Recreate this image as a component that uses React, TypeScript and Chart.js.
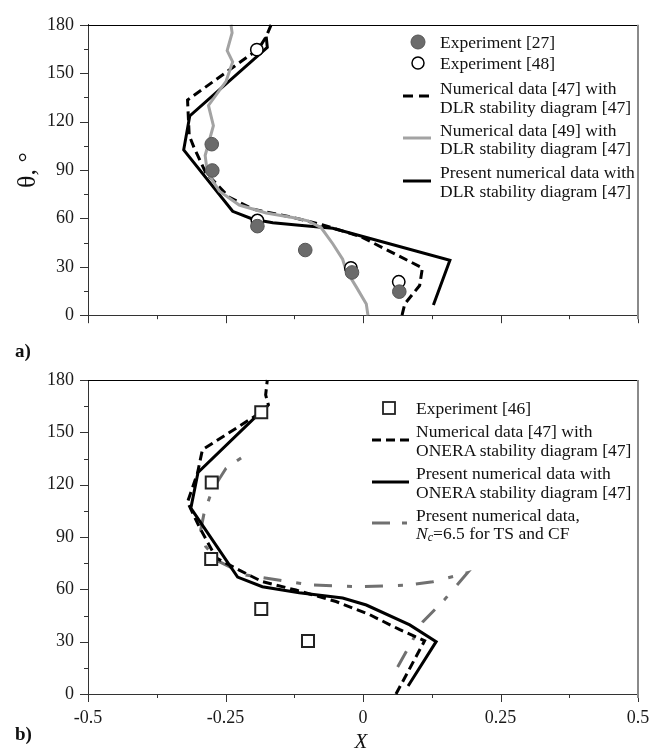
import React, { useEffect, useRef } from "react";
import { Chart, registerables } from "chart.js";
Chart.register(...registerables);

// ---------- Panel a data (X vs theta) ----------
const aExp27X = [-0.275, -0.274, -0.192, -0.105, -0.02, 0.066];
const aExp27Theta = [106, 89.7, 55.2, 40.4, 26.5, 14.6];
const aExp48X = [-0.193, -0.192, -0.022, 0.065];
const aExp48Theta = [164.6, 58.7, 29.3, 20.7];
const aNum47X = [0.071, 0.076, 0.103, 0.108, -0.003, -0.073, -0.128, -0.2, -0.243, -0.286, -0.307, -0.316, -0.319, -0.19, -0.176, -0.167];
const aNum47Theta = [0, 7, 18.4, 29.3, 48.5, 56, 60.6, 65.7, 73, 88.4, 103.7, 111.4, 133.4, 165, 172.7, 180];
const aNum49X = [0.009, 0.006, -0.012, -0.031, -0.037, -0.055, -0.076, -0.1, -0.128, -0.176, -0.225, -0.261, -0.283, -0.287, -0.272, -0.281, -0.249, -0.237, -0.247, -0.238, -0.24];
const aNum49Theta = [0, 7, 17.4, 28, 34.7, 44.3, 54.2, 58.5, 60.6, 63.4, 68.3, 76.9, 88.4, 99, 117.5, 130, 145, 157, 164, 175, 180];
const aPresentX = [0.128, 0.158, -0.055, -0.116, -0.164, -0.2, -0.237, -0.326, -0.315, -0.174, -0.176];
const aPresentTheta = [6.3, 34, 53.9, 55.8, 57.3, 59.5, 64.4, 102.5, 123.5, 166, 172.7];

// ---------- Panel b data ----------
const bExp46X = [-0.185, -0.275, -0.276, -0.185, -0.1];
const bExp46Theta = [161.5, 121.2, 77.4, 48.7, 30.4];
const bNum47X = [0.06, 0.112, 0.066, 0.012, -0.049, -0.122, -0.183, -0.225, -0.267, -0.298, -0.319, -0.301, -0.292, -0.183, -0.172, -0.177, -0.174];
const bNum47Theta = [0, 30.5, 37, 45.5, 53, 59.6, 64.4, 71, 78, 96, 110, 126.5, 140, 162, 165.7, 171.4, 180];
const bPresentX = [0.082, 0.133, 0.085, 0.006, -0.037, -0.116, -0.183, -0.228, -0.313, -0.3, -0.176];
const bPresentTheta = [4.6, 30, 39.6, 51, 55, 58, 61.5, 67, 106.5, 127, 164.7];
const bNcX = [0.063, 0.109, 0.148, 0.19, 0.176, 0.127, 0.085, -0.006, -0.097, -0.116, -0.213, -0.262, -0.286, -0.295, -0.289, -0.274, -0.249, -0.2];
const bNcTheta = [15.5, 41.5, 54, 69.5, 68.3, 64.4, 62.5, 61.5, 62.5, 63.5, 68.2, 76, 84.5, 94, 103.6, 117, 129.4, 140];

// ---------- axes ----------
const xMin = -0.5, xMax = 0.5, xStep = 0.125;
const yMin = 0, yMax = 180, yStep = 15;

const FONT = "'Liberation Serif', 'Times New Roman', serif";

const pts = (xs: number[], ys: number[]) => xs.map((x, i) => ({ x, y: ys[i] }));
const isMajorX = (v: number) => Math.abs(v * 4 - Math.round(v * 4)) < 1e-9;

const frameTicks = {
  id: "frameTicks",
  afterDraw(chart: any) {
    const { ctx, chartArea } = chart;
    const { left, right, top, bottom } = chartArea;
    const xs = chart.scales.x, ys = chart.scales.y;
    ctx.save();
    ctx.lineWidth = 1;
    ctx.strokeStyle = "#333";
    ys.ticks.forEach((t: any) => {
      const y = Math.round(ys.getPixelForValue(t.value)) + 0.5;
      const len = t.value % 30 === 0 ? 8 : 4;
      ctx.beginPath(); ctx.moveTo(left - len, y); ctx.lineTo(left, y); ctx.stroke();
    });
    xs.ticks.forEach((t: any) => {
      const x = Math.round(xs.getPixelForValue(t.value)) + 0.5;
      const len = isMajorX(t.value) ? 8 : 4;
      ctx.beginPath(); ctx.moveTo(x, bottom); ctx.lineTo(x, bottom + len); ctx.stroke();
    });
    ctx.strokeStyle = "#000";
    ctx.beginPath(); ctx.moveTo(left, Math.round(top) + 0.5); ctx.lineTo(right, Math.round(top) + 0.5); ctx.stroke();
    ctx.strokeStyle = "#8a8a8a";
    ctx.lineWidth = 2;
    ctx.beginPath(); ctx.moveTo(right, top); ctx.lineTo(right, bottom + 4); ctx.stroke();
    ctx.restore();
  },
};

function makeConfig(datasets: any[], opts: { showX: boolean; yTitle: boolean; padTop: number; xHeight: number }) {
  return {
    type: "scatter" as const,
    data: { datasets },
    plugins: [frameTicks],
    options: {
      animation: false,
      responsive: false,
      events: [],
      layout: { padding: { top: opts.padTop, right: 27, left: 0, bottom: 0 } },
      plugins: { legend: { display: false }, tooltip: { enabled: false } },
      scales: {
        x: {
          type: "linear",
          min: xMin, max: xMax,
          grid: { display: true, drawOnChartArea: false, drawTicks: false },
          border: { display: true, color: "#333", width: 1 },
          ticks: {
            display: opts.showX,
            stepSize: xStep,
            autoSkip: false,
            maxRotation: 0,
            padding: 13,
            color: "#1a1a1a",
            font: { family: FONT, size: 18 },
            callback: (v: number) => (isMajorX(v) ? String(Math.round(v * 4) / 4) : ""),
          },
          afterFit: (s: any) => { s.height = opts.xHeight; },
        },
        y: {
          type: "linear",
          min: yMin, max: yMax,
          grid: { display: true, drawOnChartArea: false, drawTicks: false },
          border: { display: true, color: "#333", width: 1 },
          ticks: {
            stepSize: yStep,
            autoSkip: false,
            padding: 14,
            color: "#1a1a1a",
            font: { family: FONT, size: 18 },
            callback: (v: number) => (v % 30 === 0 ? String(v) : ""),
          },
          title: {
            display: opts.yTitle,
            text: "θ, °",
            color: "#111",
            font: { family: FONT, size: 26 },
            padding: { top: 13, bottom: 0 },
          },
          afterFit: (s: any) => { s.width = 88; },
        },
      },
    },
  };
}

const lineDs = (data: any, color: string, dash: number[] = [], width = 3) => ({
  data, showLine: true, pointRadius: 0, borderColor: color, borderWidth: width,
  borderDash: dash, fill: false, tension: 0, clip: 4,
});

function Panel({ top, height, build }: { top: number; height: number; build: () => any }) {
  const ref = useRef<HTMLCanvasElement | null>(null);
  useEffect(() => {
    if (!ref.current) return;
    const c = new Chart(ref.current, build());
    return () => c.destroy();
  }, []);
  return (
    <canvas ref={ref} width={665} height={height}
      style={{ position: "absolute", left: 0, top, width: 665, height, display: "block" }} />
  );
}

export default function App() {
  const buildA = () => makeConfig([
    { data: pts(aExp27X, aExp27Theta), pointStyle: "circle", pointRadius: 6.8, backgroundColor: "#6b6b6b", borderColor: "#555", borderWidth: 1, showLine: false },
    { data: pts(aExp48X, aExp48Theta), pointStyle: "circle", pointRadius: 6.2, backgroundColor: "#fff", borderColor: "#000", borderWidth: 1.5, showLine: false },
    lineDs(pts(aNum49X, aNum49Theta), "#a3a3a3", [], 3),
    lineDs(pts(aPresentX, aPresentTheta), "#000", [], 3),
    lineDs(pts(aNum47X, aNum47Theta), "#000", [9, 5], 3),
  ], { showX: false, yTitle: true, padTop: 14, xHeight: 13 });

  const buildB = () => makeConfig([
    { data: pts(bExp46X, bExp46Theta), pointStyle: "rect", pointRadius: 8.5, backgroundColor: "#fff", borderColor: "#222", borderWidth: 2, showLine: false },
    lineDs(pts(bPresentX, bPresentTheta), "#000", [], 3),
    lineDs(pts(bNum47X, bNum47Theta), "#000", [9, 5], 3),
    lineDs(pts(bNcX, bNcTheta), "#707070", [18, 13, 5, 15], 3),
  ], { showX: true, yTitle: false, padTop: 40, xHeight: 55 });

  const txt = { fontFamily: FONT, fontSize: 17.5, fill: "#111" } as any;
  return (
    <div style={{ position: "absolute", left: 0, top: 0, width: 665, height: 749, background: "#fff", overflow: "hidden" }}>
      <Panel top={0} height={340} build={buildA} />
      <Panel top={340} height={409} build={buildB} />
      <svg width={665} height={749} style={{ position: "absolute", left: 0, top: 0, pointerEvents: "none" }}>
        {/* legend a */}
        <circle cx={418} cy={42} r={7} fill="#6b6b6b" stroke="#555" strokeWidth={1} />
        <circle cx={418} cy={63} r={6} fill="#fff" stroke="#000" strokeWidth={1.5} />
        <line x1={403} y1={96} x2={430} y2={96} stroke="#000" strokeWidth={3} strokeDasharray="10 6" />
        <line x1={403} y1={138} x2={431} y2={138} stroke="#a3a3a3" strokeWidth={3} />
        <line x1={403} y1={181} x2={431} y2={181} stroke="#000" strokeWidth={3} />
        <g style={txt} dominantBaseline="central">
          <text x={440} y={42}>Experiment [27]</text>
          <text x={440} y={63}>Experiment [48]</text>
          <text x={440} y={88}>Numerical data [47] with</text>
          <text x={440} y={107}>DLR stability diagram [47]</text>
          <text x={440} y={130}>Numerical data [49] with</text>
          <text x={440} y={148}>DLR stability diagram [47]</text>
          <text x={440} y={172}>Present numerical data with</text>
          <text x={440} y={191}>DLR stability diagram [47]</text>
        </g>
        {/* legend b */}
        <rect x={383} y={402} width={12} height={12} fill="#fff" stroke="#222" strokeWidth={1.8} />
        <line x1={372} y1={440} x2={409} y2={440} stroke="#000" strokeWidth={3} strokeDasharray="9 5" />
        <line x1={372} y1={482} x2={409} y2={482} stroke="#000" strokeWidth={3} />
        <line x1={372} y1={523} x2={409} y2={523} stroke="#707070" strokeWidth={3} strokeDasharray="18 12 5 20" />
        <g style={txt} dominantBaseline="central">
          <text x={416} y={408}>Experiment [46]</text>
          <text x={416} y={431}>Numerical data [47] with</text>
          <text x={416} y={450}>ONERA stability diagram [47]</text>
          <text x={416} y={473}>Present numerical data with</text>
          <text x={416} y={492}>ONERA stability diagram [47]</text>
          <text x={416} y={515}>Present numerical data,</text>
          <text x={416} y={533}>
            <tspan fontStyle="italic">N</tspan>
            <tspan fontStyle="italic" fontSize={12} dy={4}>c</tspan>
            <tspan dy={-4}>=6.5 for TS and CF</tspan>
          </text>
        </g>
        <text x={15} y={350} dominantBaseline="central" style={{ fontFamily: FONT, fontSize: 19, fontWeight: "bold", fill: "#111" } as any}>a)</text>
        <text x={15} y={733} dominantBaseline="central" style={{ fontFamily: FONT, fontSize: 19, fontWeight: "bold", fill: "#111" } as any}>b)</text>
        <text x={361} y={741} textAnchor="middle" dominantBaseline="central" style={{ fontFamily: FONT, fontSize: 21, fontStyle: "italic", fill: "#111" } as any}>X</text>
      </svg>
    </div>
  );
}
